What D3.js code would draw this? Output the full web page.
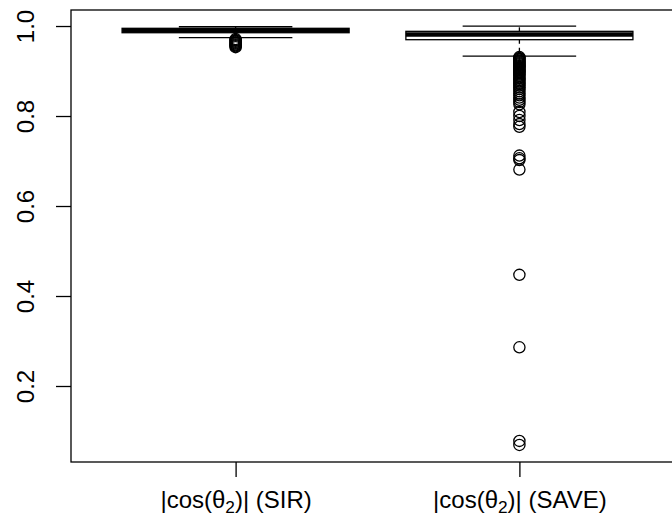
<!DOCTYPE html>
<html>
<head>
<meta charset="utf-8">
<script src="https://cdn.jsdelivr.net/npm/d3@7"></script>
<style>
  html, body { margin: 0; padding: 0; background: #fff; }
  svg { display: block; }
  text { font-family: "Liberation Sans", Arial, Helvetica, sans-serif; fill: #000; }
</style>
</head>
<body>
<svg id="chart" width="672" height="522"></svg>
<script>
// ---- data ----
const categories = ["SIR", "SAVE"];
const whiskerLow  = [0.9740, 0.9333];
const q1          = [0.9851, 0.9696];
const median      = [0.9900, 0.9811];
const q3          = [0.9949, 0.9882];
const whiskerHigh = [0.9984, 0.9999];
const outliersSIR = [0.971, 0.969, 0.967, 0.965, 0.963, 0.961, 0.959, 0.957, 0.955, 0.953];
const outliersSAVE = [0.931, 0.929, 0.927, 0.925, 0.923, 0.921, 0.919, 0.917, 0.915,
  0.913, 0.911, 0.909, 0.907, 0.905, 0.903, 0.901, 0.899, 0.897, 0.895, 0.892,
  0.889, 0.886, 0.883, 0.880, 0.877, 0.874, 0.871, 0.868, 0.864, 0.860, 0.855,
  0.850, 0.846, 0.841, 0.836, 0.831, 0.826, 0.809, 0.800,
  0.791, 0.782, 0.776, 0.712, 0.706, 0.702, 0.681, 0.447, 0.286, 0.078, 0.069];
const outliers = [outliersSIR, outliersSAVE];
const yTicks = [0.2, 0.4, 0.6, 0.8, 1.0];

// ---- layout ----
const svg = d3.select("#chart");
const mLeft = 71, mRight = 684, mTop = 10, mBottom = 462;
const fontSize = 24;

const x = d3.scaleLinear().domain([0.42, 2.58]).range([mLeft, mRight]);
const y = d3.scaleLinear().domain([0.0311, 1.0356]).range([mBottom, mTop]);

const lw = 1.3;

// frame
svg.append("rect")
  .attr("x", mLeft).attr("y", mTop)
  .attr("width", mRight - mLeft).attr("height", mBottom - mTop)
  .attr("fill", "none").attr("stroke", "#000").attr("stroke-width", lw);

// y axis
const yAxis = svg.append("g")
  .attr("transform", `translate(${mLeft},0)`)
  .call(d3.axisLeft(y).tickValues(yTicks).tickSize(15).tickFormat(d3.format(".1f")));
yAxis.select(".domain").remove();
yAxis.selectAll(".tick line").attr("stroke", "#000").attr("stroke-width", lw);
yAxis.selectAll(".tick text")
  .attr("transform", "rotate(-90)")
  .attr("x", 0).attr("y", -(mLeft - 34)).attr("dy", 0)
  .style("text-anchor", "middle")
  .style("font-size", fontSize + "px")
  .style("font-family", '"Liberation Sans", Arial, sans-serif')
  .attr("fill", "#000");

// x axis
const xAxis = svg.append("g")
  .attr("transform", `translate(0,${mBottom})`)
  .call(d3.axisBottom(x).tickValues([1, 2]).tickSize(15).tickFormat(""));
xAxis.select(".domain").remove();
xAxis.selectAll(".tick line").attr("stroke", "#000").attr("stroke-width", lw);
xAxis.selectAll(".tick text").remove();
xAxis.selectAll(".tick").each(function(d, i) {
  const t = d3.select(this).append("text")
    .attr("x", 0).attr("y", 46)
    .style("text-anchor", "middle")
    .style("font-size", fontSize + "px")
    .style("font-family", '"Liberation Sans", Arial, sans-serif')
    .attr("fill", "#000");
  t.append("tspan").text("|cos(\u03B8");
  t.append("tspan").attr("dy", 5).style("font-size", (fontSize * 0.72) + "px").text("2");
  t.append("tspan").attr("dy", -5).text(")| (" + categories[i] + ")");
});

// boxes
const half = 0.4, stapleHalf = 0.2;
categories.forEach((c, i) => {
  const p = i + 1;
  const g = svg.append("g");
  // whiskers (dashed)
  g.append("line")
    .attr("x1", x(p)).attr("x2", x(p))
    .attr("y1", y(q3[i])).attr("y2", y(whiskerHigh[i]))
    .attr("stroke", "#000").attr("stroke-width", lw).attr("stroke-dasharray", "4,4");
  g.append("line")
    .attr("x1", x(p)).attr("x2", x(p))
    .attr("y1", y(q1[i])).attr("y2", y(whiskerLow[i]))
    .attr("stroke", "#000").attr("stroke-width", lw).attr("stroke-dasharray", "4,4");
  // staples
  [whiskerHigh[i], whiskerLow[i]].forEach(v => {
    g.append("line")
      .attr("x1", x(p - stapleHalf)).attr("x2", x(p + stapleHalf))
      .attr("y1", y(v)).attr("y2", y(v))
      .attr("stroke", "#000").attr("stroke-width", lw);
  });
  // box
  g.append("rect")
    .attr("x", x(p - half)).attr("width", x(p + half) - x(p - half))
    .attr("y", y(q3[i])).attr("height", y(q1[i]) - y(q3[i]))
    .attr("fill", "#fff").attr("stroke", "#000").attr("stroke-width", lw);
  // median
  g.append("line")
    .attr("x1", x(p - half)).attr("x2", x(p + half))
    .attr("y1", y(median[i])).attr("y2", y(median[i]))
    .attr("stroke", "#000").attr("stroke-width", 4.4);
  // outliers
  g.selectAll("circle.out").data(outliers[i]).enter().append("circle")
    .attr("class", "out")
    .attr("cx", x(p)).attr("cy", d => y(d))
    .attr("r", 5.6)
    .attr("fill", "none").attr("stroke", "#000").attr("stroke-width", lw);
});
</script>
</body>
</html>
